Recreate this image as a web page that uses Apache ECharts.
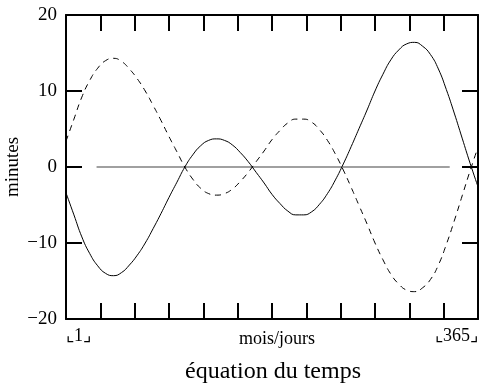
<!DOCTYPE html>
<html>
<head>
<meta charset="utf-8">
<script src="https://cdn.jsdelivr.net/npm/echarts@6/dist/echarts.min.js"></script>
<style>
  html, body { margin: 0; padding: 0; background: #fff; }
  #chart { width: 484px; height: 390px; }
</style>
</head>
<body>
<div id="chart"></div>
<script>
// Day of year (1..365)
const days = [1, 8, 15, 22, 29, 36, 43, 50, 57, 64, 71, 78, 85, 92, 99, 106, 113, 120, 127, 134,
  141, 148, 155, 162, 169, 176, 183, 190, 197, 204, 211, 218, 225, 232, 239, 246, 253, 260, 267,
  274, 281, 288, 295, 302, 309, 316, 323, 330, 337, 344, 351, 358, 365];

// Equation of time, minutes (solid curve)
const eqTime = [-3.4, -6.3, -9.2, -11.4, -13.0, -14.0, -14.3, -13.9, -12.9, -11.6, -10.0, -8.1,
  -6.1, -4.0, -2.0, 0.0, 1.6, 2.8, 3.5, 3.7, 3.5, 2.9, 1.9, 0.7, -0.7, -2.1, -3.6, -4.8, -5.8,
  -6.3, -6.3, -5.9, -4.9, -3.5, -1.7, 0.4, 2.7, 5.1, 7.5, 10.0, 12.2, 14.1, 15.4, 16.2, 16.4,
  15.9, 14.8, 12.9, 10.2, 7.1, 3.8, 0.5, -2.6];

// Opposite correction, minutes (dashed curve)
const eqTimeInv = [3.4, 6.3, 9.2, 11.4, 13.0, 14.0, 14.3, 13.9, 12.9, 11.6, 10.0, 8.1,
  6.1, 4.0, 2.0, 0.0, -1.6, -2.8, -3.5, -3.7, -3.5, -2.9, -1.9, -0.7, 0.7, 2.1, 3.6, 4.8, 5.8,
  6.3, 6.3, 5.9, 4.9, 3.5, 1.7, -0.4, -2.7, -5.1, -7.5, -10.0, -12.2, -14.1, -15.4, -16.2, -16.4,
  -15.9, -14.8, -12.9, -10.2, -7.1, -3.8, -0.5, 2.6];

// Zero reference line (start day, end day)
const zeroDays = [28, 340];
const zeroVals = [0, 0];

const yTicks = [-20, -10, 0, 10, 20];
const xEnds = [1, 365];

const pair = (xs, ys) => xs.map((x, i) => [x, ys[i]]);
const serif = '"Liberation Serif", "DejaVu Serif", serif';
const fmtY = v => (v < 0 ? '\u2212' + (-v) : String(v));

const chart = echarts.init(document.getElementById('chart'), null, { renderer: 'canvas' });

const axisLine = { show: true, onZero: false, lineStyle: { color: '#000', width: 2 } };
const tickStyle = { show: true, inside: true, length: 16, lineStyle: { color: '#000', width: 2 } };

chart.setOption({
  animation: false,
  backgroundColor: '#fff',
  title: {
    text: 'équation du temps',
    left: 268,
    textAlign: 'center',
    top: 355,
    textStyle: { fontFamily: serif, fontSize: 24, fontWeight: 'normal', color: '#000' }
  },
  grid: { left: 66, right: 6, top: 15, bottom: 71, containLabel: false, outerBoundsMode: 'none' },
  xAxis: [
    {
      type: 'value',
      min: xEnds[0],
      max: xEnds[1],
      interval: (xEnds[1] - xEnds[0]) / 12,
      position: 'bottom',
      name: 'mois/jours',
      nameLocation: 'middle',
      nameGap: 11,
      nameMoveOverlap: false,
      nameTextStyle: { fontFamily: serif, fontSize: 18, color: '#000', padding: [0, 0, 0, 10] },
      axisLine: axisLine,
      axisTick: tickStyle,
      splitLine: { show: false },
      axisLabel: {
        show: true,
        margin: 8,
        fontFamily: serif,
        fontSize: 18,
        color: '#000',
        showMinLabel: true,
        showMaxLabel: true,
        alignMinLabel: 'left',
        alignMaxLabel: 'right',
        formatter: v => {
          if (Math.abs(v - xEnds[0]) < 0.01) return '\u231E' + xEnds[0] + '\u231F';
          if (Math.abs(v - xEnds[1]) < 0.01) return '\u231E' + xEnds[1] + '\u231F';
          return '';
        }
      }
    },
    {
      type: 'value',
      min: xEnds[0],
      max: xEnds[1],
      interval: (xEnds[1] - xEnds[0]) / 12,
      position: 'top',
      axisLine: axisLine,
      axisTick: tickStyle,
      axisLabel: { show: false },
      splitLine: { show: false }
    }
  ],
  yAxis: [
    {
      type: 'value',
      min: yTicks[0],
      max: yTicks[yTicks.length - 1],
      interval: 10,
      position: 'left',
      name: 'minutes',
      nameLocation: 'middle',
      nameGap: 43,
      nameRotate: 90,
      nameMoveOverlap: false,
      nameTextStyle: { fontFamily: serif, fontSize: 19, color: '#000' },
      axisLine: axisLine,
      axisTick: tickStyle,
      splitLine: { show: false },
      axisLabel: { fontFamily: serif, fontSize: 19, color: '#000', margin: 9, formatter: fmtY }
    },
    {
      type: 'value',
      min: yTicks[0],
      max: yTicks[yTicks.length - 1],
      interval: 10,
      position: 'right',
      axisLine: axisLine,
      axisTick: tickStyle,
      axisLabel: { show: false },
      splitLine: { show: false }
    }
  ],
  series: [
    {
      type: 'line',
      data: pair(zeroDays, zeroVals),
      showSymbol: false,
      lineStyle: { color: '#808080', width: 1.5 },
      silent: true
    },
    {
      type: 'line',
      data: pair(days, eqTimeInv),
      smooth: true,
      showSymbol: false,
      lineStyle: { color: '#000', width: 1, type: [6, 5] }
    },
    {
      type: 'line',
      data: pair(days, eqTime),
      smooth: true,
      showSymbol: false,
      lineStyle: { color: '#000', width: 1 }
    }
  ]
});
</script>
</body>
</html>
